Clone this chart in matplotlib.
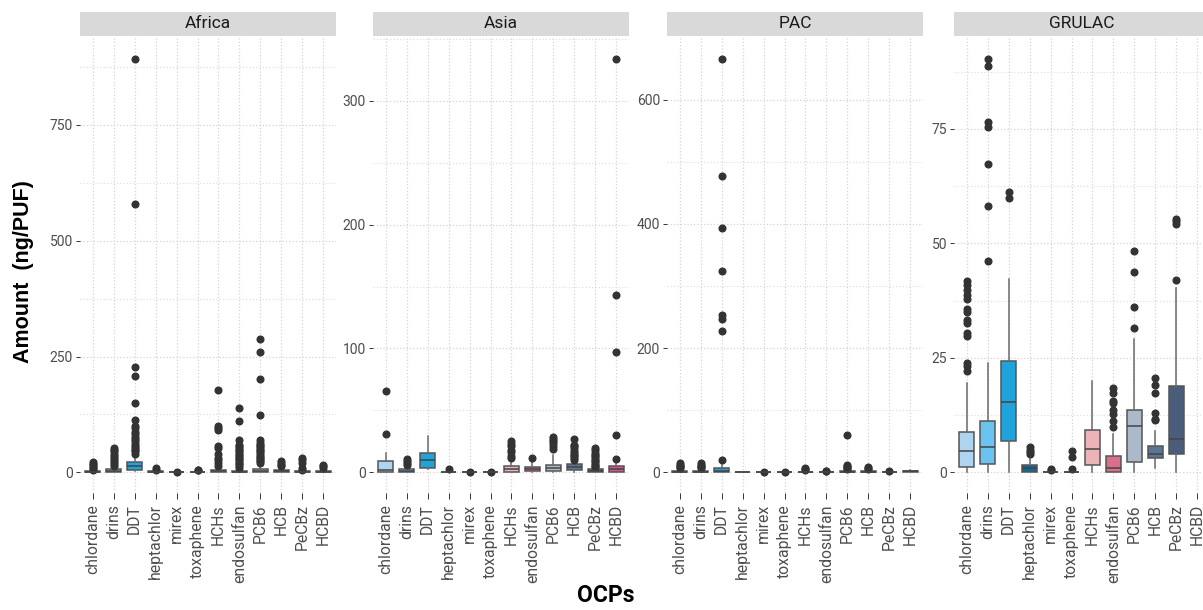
import matplotlib.pyplot as plt

plt.rcParams['font.family'] = ['Roboto', 'DejaVu Sans']

ocps = ['chlordane', 'drins', 'DDT', 'heptachlor', 'mirex', 'toxaphene',
        'HCHs', 'endosulfan', 'PCB6', 'HCB', 'PeCBz', 'HCBD']
colors = ['#aed4f0', '#69c4ef', '#20a2db', '#10679b', '#0b4a73', '#f2cfd3',
          '#ecb4b8', '#d8708a', '#abb9cb', '#5d7499', '#4a5d7b', '#d9558e']

# (whislo, q1, med, q3, whishi) per OCP
africa_box = [(0, 0.5, 1.5, 3, 5), (0, 0.5, 3, 7, 12), (3, 6, 14, 23, 35),
              (0, 0, 0.5, 2, 4), (0, 0, 0, 0.3, 0.5), (0, 0, 0.3, 1, 2),
              (0, 0.5, 3, 6, 12), (0, 0, 1, 3, 7), (0, 0.5, 3.6, 7, 15),
              (0, 0.5, 2, 5, 11), (0, 0, 0.5, 2, 4), (0, 0, 1, 3, 6)]
africa_out = [[6, 9, 12, 15, 18, 22],
              [14, 18, 22, 27, 31, 35, 40, 45, 49, 53],
              [40, 45, 49, 53, 57, 62, 67, 72, 77, 82, 88, 96, 99, 114, 149, 207, 228, 580, 893],
              [6, 9], [1], [4, 6],
              [14, 20, 27, 31, 40, 52, 56, 92, 96, 99, 178],
              [9, 13, 17, 21, 24, 28, 31, 35, 38, 42, 45, 49, 52, 56, 60, 70, 110, 139],
              [20, 24, 27, 31, 34, 38, 42, 45, 49, 53, 56, 60, 63, 70, 124, 201, 259, 288],
              [13, 16, 20, 24], [6, 9, 20, 27, 31], [9, 13, 16]]

asia_box = [(0, 0, 1.5, 8.9, 16), (0, 0.2, 1.1, 2.7, 5), (3.0, 3.5, 10.2, 15.6, 29.6),
            (0, 0, 0.2, 0.5, 1), (0, 0, 0, 0.1, 0.2), (0, 0, 0, 0.2, 0.3),
            (0, 0.5, 2.7, 4.8, 10), (0, 0.8, 2.7, 4.3, 9), (0, 0.8, 3.8, 6.2, 14),
            (0.5, 2.2, 4.3, 6.7, 8.5), (0, 0, 1, 2.7, 3.5), (0, 0.5, 2.7, 4.8, 9)]
asia_out = [[30.9, 65.3], [5.8, 7.5, 9.1, 10.8], [], [2.7], [0.3], [0.6],
            [11.3, 13.4, 16.1, 18.3, 21, 23, 25], [11.3],
            [19, 21, 23.7, 25.5, 26.9, 28.5],
            [10, 11.6, 13, 14.2, 16, 17.5, 19.6, 21, 22.3, 26.9],
            [4, 5, 6.2, 7.5, 8.9, 10, 11.6, 13, 14.2, 16, 18.3, 19.5],
            [10.8, 29.8, 96.8, 143.5, 334]]

pac_box = [(0, 0, 0.5, 2, 4), (0, 0, 0.5, 2, 4), (0, 0.5, 2.7, 6.5, 14.6),
           (0, 0, 0.2, 0.5, 0.8), (0, 0, 0.3, 0.5, 0.8), (0, 0, 0, 0.2, 0.3),
           (0, 0, 0.3, 1, 2), (0, 0, 0.2, 0.5, 1), (0, 0, 0.5, 2, 4),
           (0, 0, 0.5, 2, 4), (0, 0, 0.3, 0.8, 1.5), (0.8, 1.1, 2, 2.7, 3.2)]
pac_out = [[6.5, 8, 10, 12, 14.6], [6.5, 8, 10, 12, 14.6],
           [19.5, 227, 247, 253, 324, 394, 477, 666],
           [], [1.2], [0.5], [3.8, 5, 6.5], [1.8, 2.7],
           [4.9, 6.5, 8.1, 10, 11.9, 60.5], [4.9, 6.5, 8.1], [2.2], []]

grulac_box = [(0, 1.1, 4.7, 8.8, 19.4), (0, 1.9, 5.6, 11.1, 23.9), (0, 6.8, 15.3, 24.3, 42.1),
              (0, 0, 0.95, 1.5, 3.0), (0, 0, 0, 0.1, 0.2), (0, 0, 0, 0.1, 0.2),
              (0, 1.5, 5.0, 9.3, 19.9), (0, 0, 1.0, 3.6, 8.4), (0, 2.3, 10.2, 13.6, 29.0),
              (1.0, 3.1, 4.1, 5.7, 9.1), (0, 3.9, 7.3, 18.8, 40.3), None]
grulac_out = [[22.1, 23.2, 23.9, 29.7, 30.5, 32.5, 33.2, 35, 35.7, 37.8, 38.8, 39.9, 41, 41.8],
              [46.2, 58.2, 67.3, 75.4, 76.5, 88.7, 90.3],
              [59.8, 61.1], [3.9, 4.4, 4.8, 5.6], [0.5, 0.8], [0.7, 3.4, 4.7], [],
              [9.8, 11.3, 12.8, 13.6, 15.2, 15.5, 17.3, 18.4],
              [31.6, 36.0, 43.8, 48.3], [11.4, 11.7, 13, 17.3, 19.0, 20.6],
              [41.9, 54.2, 54.9, 55.4], []]

regions = ['Africa', 'Asia', 'PAC', 'GRULAC']
region_boxes = [africa_box, asia_box, pac_box, grulac_box]
region_outs = [africa_out, asia_out, pac_out, grulac_out]
region_ticks = [[0, 250, 500, 750], [0, 100, 200, 300], [0, 200, 400, 600], [0, 25, 50, 75]]

W, H = 1203, 610
fig = plt.figure(figsize=(W / 100, H / 100), dpi=100)
lefts = [80, 373, 667, 954]
pw = 256
top, bottom = 38, 493

for k, name in enumerate(regions):
    ax = fig.add_axes([lefts[k] / W, 1 - bottom / H, pw / W, (bottom - top) / H])
    stats, pos, cols = [], [], []
    for i, b in enumerate(region_boxes[k]):
        if b is None:
            continue
        stats.append(dict(whislo=b[0], q1=b[1], med=b[2], q3=b[3], whishi=b[4],
                          fliers=region_outs[k][i]))
        pos.append(i + 1)
        cols.append(colors[i])
    bp = ax.bxp(stats, positions=pos, widths=0.75, patch_artist=True, showcaps=False,
                boxprops=dict(edgecolor='#555555', linewidth=1.1),
                medianprops=dict(color='#444444', linewidth=1.1),
                whiskerprops=dict(color='#6a6a6a', linewidth=1.1),
                flierprops=dict(marker='o', markersize=4.8, markerfacecolor='#333333',
                                markeredgecolor='#333333'))
    for patch, c in zip(bp['boxes'], cols):
        patch.set_facecolor(c)

    allv = [v for b in region_boxes[k] if b for v in b] + [v for o in region_outs[k] for v in o]
    lo, hi = min(allv), max(allv)
    pad = 0.05 * (hi - lo)
    ax.set_ylim(lo - pad, hi + pad)
    ax.set_xlim(0.4, 12.6)

    ticks = region_ticks[k]
    step = ticks[1] - ticks[0]
    minor = [t + step / 2 for t in ticks if t + step / 2 < hi + pad]
    ax.set_yticks(ticks)
    ax.set_yticks(minor, minor=True)
    ax.set_xticks(range(1, 13))
    ax.set_xticklabels(ocps, rotation=90)

    ax.set_axisbelow(True)
    ax.grid(which='major', linestyle=':', color='#d4d4d4', linewidth=0.9)
    ax.grid(which='minor', axis='y', linestyle=':', color='#e0e0e0', linewidth=0.9)
    for s in ax.spines.values():
        s.set_visible(False)
    ax.tick_params(axis='y', which='major', length=3, width=0.7, color='#333333',
                   labelcolor='#4d4d4d', labelsize=10, pad=2)
    ax.tick_params(axis='x', length=4, width=0.7, color='#333333',
                   labelcolor='#4d4d4d', labelsize=11.3, pad=4)
    ax.tick_params(which='minor', length=0)

    strip = fig.add_axes([lefts[k] / W, 1 - 36 / H, pw / W, 24 / H])
    strip.set_facecolor('#d9d9d9')
    strip.set_xticks([])
    strip.set_yticks([])
    for s in strip.spines.values():
        s.set_visible(False)
    strip.text(0.5, 0.5, name, ha='center', va='center', fontsize=12.5, color='#1a1a1a')

fig.text(24 / W, 1 - 272 / H, 'Amount  (ng/PUF)', rotation=90, ha='center', va='center',
         fontsize=15.5, fontweight='bold', family=['Liberation Sans', 'DejaVu Sans'])
fig.text(606 / W, 1 - 596 / H, 'OCPs', ha='center', va='center', fontsize=16.5, fontweight='bold')

fig.savefig('out.png', dpi=100)
